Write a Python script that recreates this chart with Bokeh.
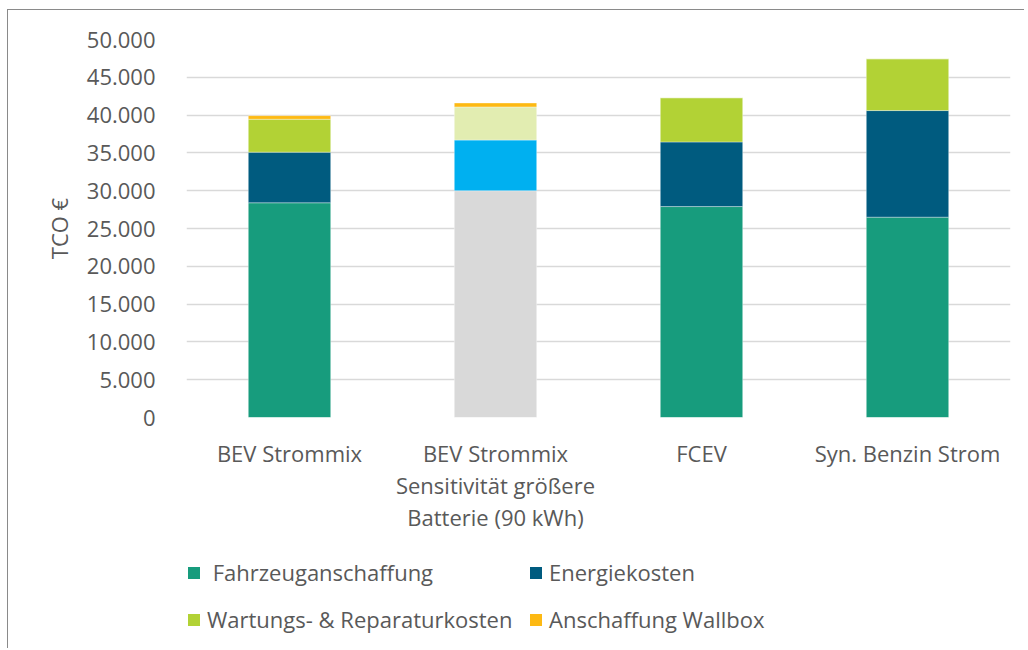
from bokeh.plotting import figure
from bokeh.layouts import column
from bokeh.models import ColumnDataSource, FactorRange, FixedTicker, Legend, LegendItem, Range1d
from bokeh.core.properties import field
from bokeh.embed import file_html
from bokeh.resources import INLINE

categories = ["BEV Strommix", "BEV Strommix\nSensitivität größere\nBatterie (90 kWh)", "FCEV", "Syn. Benzin Strom"]
fahrzeuganschaffung = [28400, 30000, 27900, 26500]
energiekosten = [6700, 6700, 8550, 14100]
wartung = [4350, 4380, 5850, 6850]
wallbox = [480, 520, 0, 0]

farbe_fahrzeug = ["#179C7D", "#D9D9D9", "#179C7D", "#179C7D"]
farbe_energie = ["#005B7F", "#00B0F0", "#005B7F", "#005B7F"]
farbe_wartung = ["#B2D235", "#E2EDB1", "#B2D235", "#B2D235"]
farbe_wallbox = ["#FDB913", "#FDB913", "#FDB913", "#FDB913"]

series_labels = [" Fahrzeuganschaffung", "Energiekosten", "Wartungs- & Reparaturkosten", "Anschaffung Wallbox"]
y_ticks = [0, 5000, 10000, 15000, 20000, 25000, 30000, 35000, 40000, 45000, 50000]
y_tick_labels = ["0", "5.000", "10.000", "15.000", "20.000", "25.000", "30.000", "35.000", "40.000", "45.000", "50.000"]

source = ColumnDataSource(dict(
    cat=categories,
    fahrzeug=fahrzeuganschaffung,
    energie=energiekosten,
    wartung=wartung,
    wallbox=wallbox,
    c_fahrzeug=farbe_fahrzeug,
    c_energie=farbe_energie,
    c_wartung=farbe_wartung,
    c_wallbox=farbe_wallbox,
))

stackers = ["fahrzeug", "energie", "wartung", "wallbox"]
fills = [field("c_fahrzeug"), field("c_energie"), field("c_wartung"), field("c_wallbox")]

FONT = "Open Sans"
TXT = "#595959"
FS = "22px"

p = figure(width=1016, height=530, x_range=FactorRange(*categories, range_padding=0),
           y_range=(0, 50000), output_backend="svg", toolbar_location=None,
           min_border_left=178, min_border_right=14, min_border_top=29, min_border_bottom=123)

p.vbar_stack(stackers, x="cat", width=0.4, fill_color=fills,
             line_color="white", line_alpha=0.35, line_width=1, source=source)

p.outline_line_color = None
p.background_fill_color = "white"
p.border_fill_color = "white"
p.xgrid.grid_line_color = None
p.ygrid.grid_line_color = "#D9D9D9"
p.ygrid.grid_line_width = 1.5
p.ygrid.ticker = FixedTicker(ticks=y_ticks)

p.yaxis.ticker = FixedTicker(ticks=y_ticks)
p.yaxis.major_label_overrides = {t: l for t, l in zip(y_ticks, y_tick_labels)}
p.yaxis.axis_label = "TCO €"
for ax in (p.xaxis[0], p.yaxis[0]):
    ax.axis_line_color = None
    ax.major_tick_line_color = None
    ax.minor_tick_line_color = None
    ax.major_label_text_font = FONT
    ax.major_label_text_font_size = FS
    ax.major_label_text_color = TXT
    ax.axis_label_text_font = FONT
    ax.axis_label_text_font_size = FS
    ax.axis_label_text_color = TXT
    ax.axis_label_text_font_style = "normal"
p.yaxis.major_label_standoff = 25
p.yaxis.axis_label_standoff = 10
p.xaxis.major_label_standoff = 14
p.xaxis.major_label_text_line_height = 1.08

# legend strip below the chart: same stacks (zero width, out of view) only feed the legend swatches
p2 = figure(width=1016, height=108, x_range=FactorRange(*categories, range_padding=0),
            y_range=Range1d(-2, -1), output_backend="svg", toolbar_location=None, min_border=0)
p2.axis.visible = False
p2.grid.visible = False
p2.outline_line_color = None
p2.border_fill_color = "white"
legend_renderers = p2.vbar_stack(stackers, x="cat", width=0, fill_color=fills,
                                 line_color=None, source=source)

order = [0, 2, 1, 3]  # column-major fill -> rows: (0,1), (2,3)
legend = Legend(items=[LegendItem(label=series_labels[i], renderers=[legend_renderers[i]], index=0) for i in order],
                ncols=2, location=(0, 10))
legend.glyph_width = 15
legend.glyph_height = 15
legend.label_height = 38
legend.label_width = 312
legend.spacing = 9
legend.label_standoff = 6
legend.padding = 0
legend.margin = 0
legend.border_line_color = None
legend.background_fill_alpha = 0
legend.label_text_font = FONT
legend.label_text_font_size = FS
legend.label_text_color = TXT
p2.add_layout(legend, "center")

layout = column(p, p2, spacing=0)
layout.styles = {"margin-left": "7px", "margin-top": "9px",
                 "border-left": "1px solid #8a8a8a", "border-top": "1px solid #8a8a8a"}

open("out.html", "w").write(file_html(layout, INLINE))
